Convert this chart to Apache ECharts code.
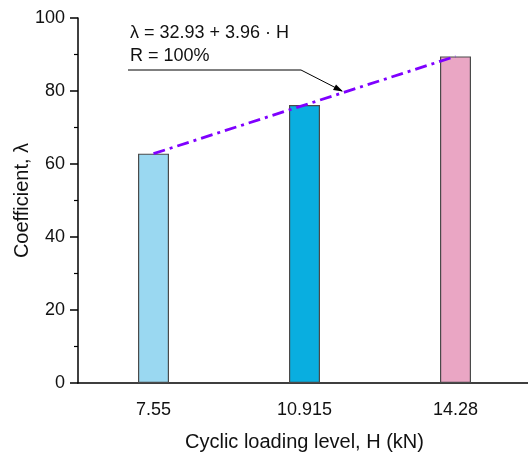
<!DOCTYPE html>
<html><head><meta charset="utf-8">
<script src="https://cdn.jsdelivr.net/npm/echarts@6/dist/echarts.min.js"></script>
<style>html,body{margin:0;padding:0;background:#fff}#c{width:528px;height:455px}</style>
</head><body><div id="c"></div>
<script>
const categories = ['7.55', '10.915', '14.28'];
const lambdaValues = [62.83, 76.15, 89.48];
const fitValues = [62.83, 76.15, 89.48];
const barColors = ['#9AD8F1', '#09AEE0', '#EAA6C4'];
const yTicks = [0, 20, 40, 60, 80, 100];

const chart = echarts.init(document.getElementById('c'));
const F = 'Liberation Sans, Arial, sans-serif';
chart.setOption({
  animation: false,
  grid: {left: 78, top: 18, right: -3, bottom: 72, outerBoundsMode: 'none', containLabel: false},
  xAxis: {
    type: 'category', data: categories,
    axisLine: {lineStyle: {color: '#000', width: 1.5}},
    axisTick: {alignWithLabel: true, length: 6, lineStyle: {color: '#000', width: 1.5}},
    axisLabel: {color: '#111', fontFamily: F, fontSize: 18, margin: 18},
    name: 'Cyclic loading level, H (kN)', nameLocation: 'middle', nameGap: 49,
    nameMoveOverlap: false,
    nameTextStyle: {color: '#111', fontFamily: F, fontSize: 20}
  },
  yAxis: {
    type: 'value', min: yTicks[0], max: yTicks[yTicks.length - 1], interval: 20,
    axisLine: {show: true, lineStyle: {color: '#000', width: 1.5}},
    axisTick: {show: true, length: 8, lineStyle: {color: '#000', width: 1.5}},
    minorTick: {show: true, splitNumber: 2, length: 4, lineStyle: {color: '#000', width: 1.2}},
    splitLine: {show: false},
    axisLabel: {color: '#111', fontFamily: F, fontSize: 18, margin: 13},
    name: 'Coefficient, λ', nameLocation: 'middle', nameGap: 46,
    nameMoveOverlap: false,
    nameTextStyle: {color: '#111', fontFamily: F, fontSize: 20}
  },
  series: [
    {
      type: 'bar', barWidth: 31,
      data: lambdaValues.map((v, i) => ({value: v, itemStyle: {color: barColors[i]}})),
      itemStyle: {borderColor: '#4a4a4a', borderWidth: 1.2}
    },
    {
      type: 'line', data: fitValues, symbol: 'none', z: 5,
      lineStyle: {color: '#7F00FF', width: 2.8, type: [12, 5, 3, 5]}
    }
  ],
  graphic: [
    {type: 'text', left: 130, top: 24, style: {text: 'λ = 32.93 + 3.96 · H', font: '18px ' + F, fill: '#111'}},
    {type: 'text', left: 130, top: 47, style: {text: 'R = 100%', font: '18px ' + F, fill: '#111'}},
    {type: 'polyline', shape: {points: [[128, 70], [301, 70], [342, 91]]}, style: {stroke: '#000', lineWidth: 1, fill: null}},
    {type: 'polygon', shape: {points: [[343, 91.5], [333, 90], [336, 84.5]]}, style: {fill: '#000'}}
  ]
});
</script></body></html>
